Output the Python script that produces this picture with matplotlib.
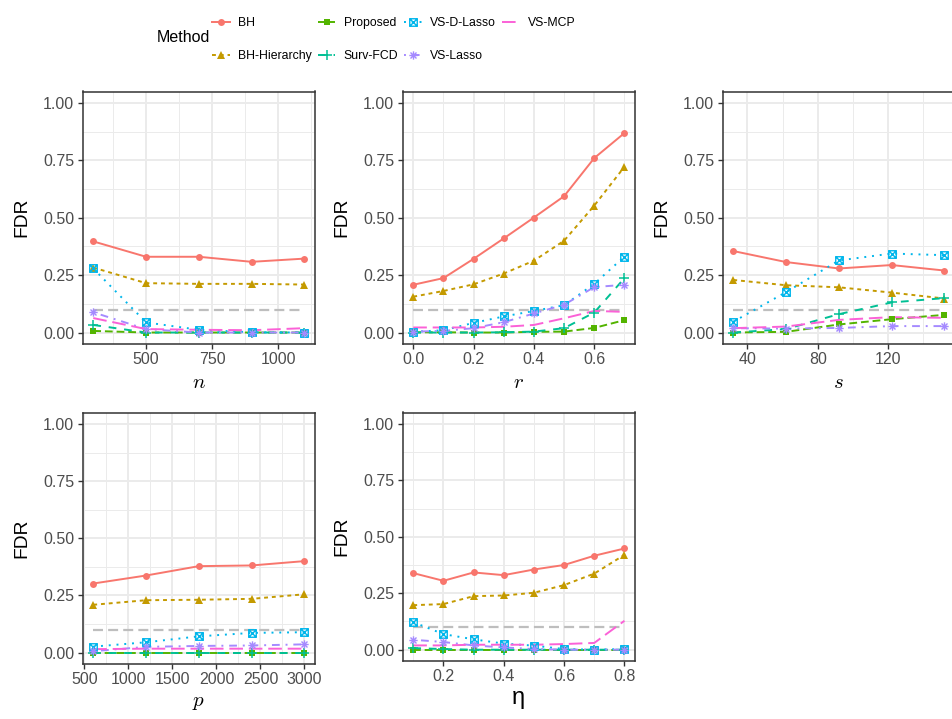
import numpy as np
import matplotlib
matplotlib.use("Agg")
import matplotlib.pyplot as plt
from matplotlib.path import Path
from matplotlib.lines import Line2D

plt.rcParams['font.family'] = ['Liberation Sans', 'DejaVu Sans']
plt.rcParams['mathtext.fontset'] = 'cm'

# ---------------- data ----------------
methods = ["BH", "BH-Hierarchy", "Proposed", "Surv-FCD", "VS-D-Lasso", "VS-Lasso", "VS-MCP"]

n_vals = [300, 500, 700, 900, 1100]
r_vals = [0.0, 0.1, 0.2, 0.3, 0.4, 0.5, 0.6, 0.7]
s_vals = [32, 62, 92, 122, 152]
p_vals = [600, 1200, 1800, 2400, 3000]
eta_vals = [0.1, 0.2, 0.3, 0.4, 0.5, 0.6, 0.7, 0.8]

fdr_n = {
    "BH":           [0.397, 0.330, 0.330, 0.308, 0.322],
    "BH-Hierarchy": [0.283, 0.215, 0.212, 0.212, 0.209],
    "Proposed":     [0.007, 0.000, 0.000, 0.000, 0.000],
    "Surv-FCD":     [0.033, 0.000, 0.000, 0.000, 0.000],
    "VS-D-Lasso":   [0.279, 0.044, 0.012, 0.001, 0.000],
    "VS-Lasso":     [0.088, 0.015, 0.000, 0.000, 0.000],
    "VS-MCP":       [0.063, 0.015, 0.012, 0.010, 0.019],
}
fdr_r = {
    "BH":           [0.208, 0.237, 0.321, 0.410, 0.501, 0.594, 0.760, 0.869],
    "BH-Hierarchy": [0.156, 0.181, 0.210, 0.257, 0.313, 0.400, 0.553, 0.722],
    "Proposed":     [0.001, 0.001, 0.000, 0.000, 0.003, 0.004, 0.020, 0.054],
    "Surv-FCD":     [0.000, 0.000, 0.000, 0.001, 0.004, 0.019, 0.087, 0.237],
    "VS-D-Lasso":   [0.003, 0.010, 0.042, 0.070, 0.094, 0.119, 0.212, 0.331],
    "VS-Lasso":     [0.004, 0.007, 0.019, 0.045, 0.083, 0.121, 0.198, 0.208],
    "VS-MCP":       [0.022, 0.022, 0.022, 0.025, 0.033, 0.062, 0.094, 0.090],
}
fdr_s = {
    "BH":           [0.355, 0.307, 0.279, 0.294, 0.270],
    "BH-Hierarchy": [0.229, 0.206, 0.197, 0.174, 0.148],
    "Proposed":     [0.000, 0.003, 0.035, 0.058, 0.077],
    "Surv-FCD":     [0.000, 0.015, 0.080, 0.131, 0.150],
    "VS-D-Lasso":   [0.047, 0.176, 0.314, 0.344, 0.337],
    "VS-Lasso":     [0.019, 0.017, 0.020, 0.028, 0.028],
    "VS-MCP":       [0.019, 0.026, 0.055, 0.067, 0.064],
}
fdr_p = {
    "BH":           [0.302, 0.337, 0.378, 0.381, 0.400],
    "BH-Hierarchy": [0.209, 0.229, 0.231, 0.235, 0.255],
    "Proposed":     [0.000, 0.000, 0.000, 0.000, 0.000],
    "Surv-FCD":     [0.000, 0.000, 0.000, 0.000, 0.000],
    "VS-D-Lasso":   [0.026, 0.045, 0.071, 0.086, 0.089],
    "VS-Lasso":     [0.006, 0.025, 0.029, 0.031, 0.036],
    "VS-MCP":       [0.015, 0.017, 0.017, 0.017, 0.017],
}
fdr_eta = {
    "BH":           [0.339, 0.305, 0.342, 0.330, 0.355, 0.375, 0.416, 0.448],
    "BH-Hierarchy": [0.197, 0.202, 0.237, 0.240, 0.252, 0.286, 0.337, 0.420],
    "Proposed":     [0.000, 0.000, 0.000, 0.000, 0.000, 0.000, 0.000, 0.000],
    "Surv-FCD":     [0.007, 0.003, 0.000, 0.000, 0.000, 0.000, 0.000, 0.000],
    "VS-D-Lasso":   [0.122, 0.069, 0.046, 0.027, 0.018, 0.003, 0.000, 0.003],
    "VS-Lasso":     [0.044, 0.034, 0.019, 0.010, 0.003, 0.000, 0.000, 0.000],
    "VS-MCP":       [0.019, 0.019, 0.022, 0.022, 0.022, 0.025, 0.030, 0.128],
}
target_level = 0.1

# ---------------- styles ----------------
colors = {
    "BH": "#F8766D", "BH-Hierarchy": "#C49A00", "Proposed": "#53B400",
    "Surv-FCD": "#00C094", "VS-D-Lasso": "#00B6EB", "VS-Lasso": "#A58AFF",
    "VS-MCP": "#FB61D7",
}
linestyles = {
    "BH": "-", "BH-Hierarchy": (0, (2, 2)), "Proposed": (0, (4, 2)),
    "Surv-FCD": (0, (4, 4)), "VS-D-Lasso": (0, (1, 3)),
    "VS-Lasso": (0, (1, 3, 4, 3)), "VS-MCP": (0, (7, 3)),
}
box_x = Path([(-1, -1), (1, -1), (1, 1), (-1, 1), (-1, -1),
              (-1, -1), (1, 1), (-1, 1), (1, -1)],
             [Path.MOVETO, Path.LINETO, Path.LINETO, Path.LINETO, Path.CLOSEPOLY,
              Path.MOVETO, Path.LINETO, Path.MOVETO, Path.LINETO])
asterisk = Path([(0, -1), (0, 1), (-1, 0), (1, 0),
                 (-0.72, -0.72), (0.72, 0.72), (-0.72, 0.72), (0.72, -0.72)],
                [Path.MOVETO, Path.LINETO, Path.MOVETO, Path.LINETO,
                 Path.MOVETO, Path.LINETO, Path.MOVETO, Path.LINETO])
markers = {
    "BH": dict(marker="o", ms=5.0, mew=0),
    "BH-Hierarchy": dict(marker="^", ms=6.0, mew=0),
    "Proposed": dict(marker="s", ms=4.8, mew=0),
    "Surv-FCD": dict(marker="+", ms=6.5, mew=1.1),
    "VS-D-Lasso": dict(marker=box_x, ms=5.4, mew=1.0, mfc="none"),
    "VS-Lasso": dict(marker=asterisk, ms=6.0, mew=1.0, mfc="none"),
    "VS-MCP": dict(marker="None"),
}
LW = 1.4
LEG_SIZE = 8.8

W, H = 952, 719
fig = plt.figure(figsize=(W / 100, H / 100), dpi=100)


def rect(l, t, r, b):
    return [l / W, 1 - b / H, (r - l) / W, (b - t) / H]


panels = [
    (rect(82.7, 91.5, 315, 344), n_vals, fdr_n, r"$n$", [500, 750, 1000],
     [375, 625, 875, 1125], ["500", "750", "1000"]),
    (rect(402.7, 91.5, 635, 344), r_vals, fdr_r, r"$r$", [0.0, 0.2, 0.4, 0.6],
     [0.1, 0.3, 0.5, 0.7], ["0.0", "0.2", "0.4", "0.6"]),
    (rect(722.7, 91.5, 955, 344), s_vals, fdr_s, r"$s$", [40, 80, 120],
     [60, 100, 140], ["40", "80", "120"]),
    (rect(82.7, 412.5, 315, 664), p_vals, fdr_p, r"$p$",
     [500, 1000, 1500, 2000, 2500, 3000], [750, 1250, 1750, 2250, 2750],
     ["500", "1000", "1500", "2000", "2500", "3000"]),
    (rect(402.7, 412.5, 635, 661), eta_vals, fdr_eta, "η", [0.2, 0.4, 0.6, 0.8],
     [0.1, 0.3, 0.5, 0.7], ["0.2", "0.4", "0.6", "0.8"]),
]

tick_col = "#4D4D4D"
grid_col = "#EBEBEB"

for pos, xv, fdr, xlabel, xt, xmt, xtl in panels:
    ax = fig.add_axes(pos)
    x = np.asarray(xv, dtype=float)
    span = x.max() - x.min()
    ax.set_xlim(x.min() - 0.05 * span, x.max() + 0.05 * span)
    ax.set_ylim(-0.05, 1.05)
    ax.set_xticks(xt)
    ax.set_xticklabels(xtl)
    ax.set_xticks(xmt, minor=True)
    ax.set_yticks([0, 0.25, 0.5, 0.75, 1.0])
    ax.set_yticklabels(["0.00", "0.25", "0.50", "0.75", "1.00"])
    ax.set_yticks([0.125, 0.375, 0.625, 0.875], minor=True)
    ax.grid(which="major", color=grid_col, lw=1.4, zorder=0)
    ax.grid(which="minor", color=grid_col, lw=0.7, zorder=0)
    ax.set_axisbelow(True)
    ax.tick_params(which="major", length=3.6, width=1.0, color="#333333",
                   labelsize=11.5, labelcolor=tick_col, pad=2.5)
    ax.tick_params(which="minor", length=0)
    for sp in ax.spines.values():
        sp.set_color("#333333")
        sp.set_linewidth(1.1)

    ax.plot([x.min(), x.max()], [target_level, target_level], color="#BEBEBE",
            lw=1.6, ls=(0, (4.5, 2.3)), zorder=1.5)
    for m in methods:
        ax.plot(x, fdr[m], color=colors[m], lw=LW, ls=linestyles[m], zorder=2)
    for m in methods:
        if m == "VS-MCP":
            continue
        ax.plot(x, fdr[m], color=colors[m], ls="None", zorder=3,
                mec=colors[m], **markers[m])

    ax.set_ylabel("FDR", fontsize=13.8, labelpad=9)
    if xlabel == "η":
        ax.set_xlabel(xlabel, fontsize=17, labelpad=2)
    else:
        ax.set_xlabel(xlabel, fontsize=15, labelpad=4)

# legend
handles = []
for m in methods:
    handles.append(Line2D([], [], color=colors[m], lw=LW, ls=linestyles[m],
                          mec=colors[m], **markers[m]))
leg_px = LEG_SIZE * 100 / 72.0
fig.legend(handles, methods, ncol=4, loc="upper left",
           bbox_to_anchor=(212 / W, 1 - (21.7 - 0.4 * leg_px) / H), frameon=False,
           fontsize=LEG_SIZE,
           handlelength=17.5 / leg_px, handletextpad=8.5 / leg_px,
           columnspacing=6.0 / leg_px,
           labelspacing=(33.3 - 1.0 * leg_px) / leg_px, borderpad=0, borderaxespad=0)
fig.text(157 / W, 1 - 38 / H, "Method", fontsize=11.5, va="center", ha="left")

fig.savefig("out.png", dpi=100)
